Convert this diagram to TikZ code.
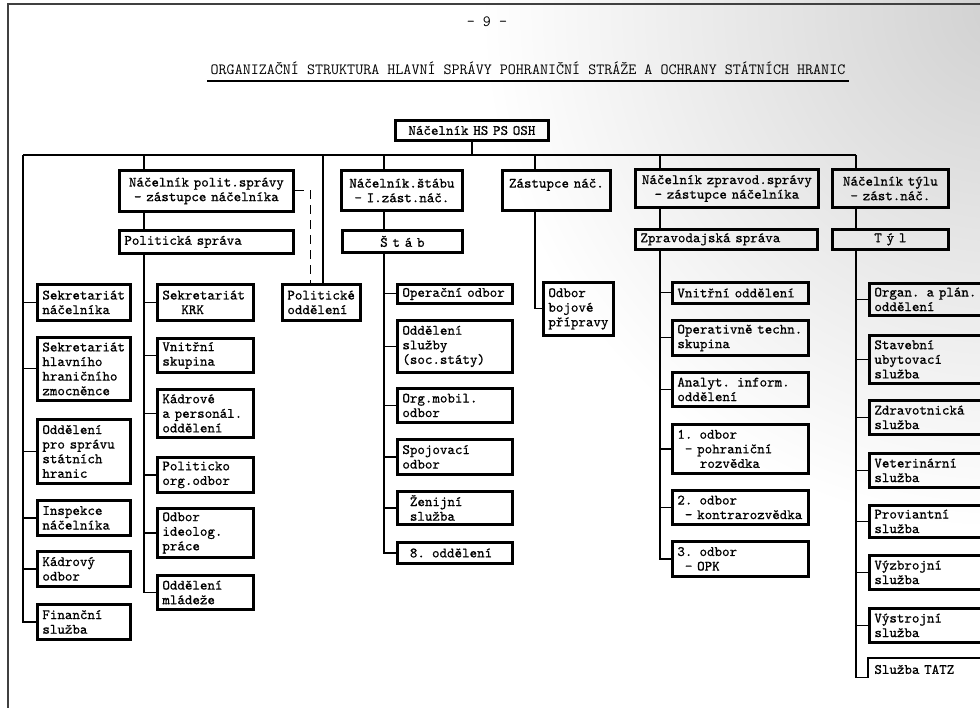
\documentclass[tikz,border=0pt]{standalone}
\usepackage{fontspec}
\newfontfamily\typer{lmmono10-regular.otf}[FakeBold=0.7]
\newcommand{\boxfont}{\typer\fontsize{14.3}{14.6}\selectfont}
\newcommand{\titlefont}{\ttfamily\fontsize{15.6}{17}\selectfont}

\begin{document}
\begin{tikzpicture}[x=1pt,y=-1pt,
    unit/.style={draw,line width=2.8pt,anchor=north west,inner xsep=5pt,inner ysep=2pt,align=left,font=\boxfont},
    link/.style={line width=1.2pt}]

    \clip (0,0) rectangle (980,708);
    \shade[inner color=black!18,outer color=white] (1000,10) circle (520);
    \draw[line width=1.6pt,black!75] (8,708) -- (8,4) -- (980,4);

    \node[font=\titlefont] (page) at (487,22) {- 9 -};
    \node[font=\titlefont] (title) at (528,68) {ORGANIZAČNÍ STRUKTURA HLAVNÍ SPRÁVY POHRANIČNÍ STRÁŽE A OCHRANY STÁTNÍCH HRANIC};
    \draw[line width=1.8pt] ([yshift=-3pt]title.south west) -- ([yshift=-3pt]title.south east);

    \node[unit,align=center,text width=143pt,minimum height=20pt] (chief) at (394,119) {Náčelník HS PS OSH};

    % nacelnici a spravy
    \begin{scope}[every node/.style={unit,align=center}]
        \node[text width=164pt,minimum height=41pt] (npol) at (118,169) {Náčelník polit.správy\\- zástupce náčelníka};
        \node[text width=111pt,minimum height=40pt] (nstab) at (340,169) {Náčelník.štábu\\- I.zást.náč.};
        \node[text width=98pt,minimum height=40pt] (nzast) at (501,169) {Zástupce náč.\\\mbox{}};
        \node[text width=173pt,minimum height=38pt] (nzprav) at (634,168) {Náčelník zpravod.správy\\- zástupce náčelníka};
        \node[text width=106pt,minimum height=38pt] (ntyl) at (831,168) {Náčelník týlu\\- zást.náč.};
        \node[text width=164pt,minimum height=23pt,align=left] (polsp) at (118,229) {Politická správa};
        \node[text width=110pt,minimum height=22pt] (stab) at (341,229) {Š t á b};
        \node[text width=172pt,minimum height=20pt,align=left] (zprsp) at (634,228) {Zpravodajská správa};
        \node[text width=106pt,minimum height=20pt] (tyl) at (831,228) {T ý l};
    \end{scope}

    \node[unit,text width=68pt,minimum height=36pt] (polodd) at (281,283) {Politické\\oddělení};
    \node[unit,text width=60pt,minimum height=53pt] (nbojo) at (542,281) {Odbor\\bojové\\přípravy};

    % levy sloupec
    \begin{scope}[every node/.style={unit,text width=83pt}]
        \node[minimum height=36pt] (lsek) at (36,283) {Sekretariát\\náčelníka};
        \node[minimum height=63pt] (lhlav) at (36,336) {Sekretariát\\hlavního\\hraničního\\zmocněnce};
        \node[minimum height=64pt] (lodd) at (36,418) {Oddělení\\pro správu\\státních\\hranic};
        \node[minimum height=35pt] (linsp) at (36,499) {Inspekce\\náčelníka};
        \node[minimum height=35pt] (lkadr) at (36,550) {Kádrový\\odbor};
        \node[minimum height=35pt] (lfin) at (36,603) {Finanční\\služba};
    \end{scope}

    % politicka sprava
    \begin{scope}[every node/.style={unit,text width=86pt}]
        \node[minimum height=36pt] (psek) at (156,283) {Sekretariát\\\hspace*{19pt}KRK};
        \node[minimum height=34pt] (pvnit) at (156,337) {Vnitřní\\skupina};
        \node[minimum height=48pt] (pkadr) at (156,388) {Kádrové\\a personál.\\oddělení};
        \node[minimum height=35pt] (ppolorg) at (156,456) {Politicko\\org.odbor};
        \node[minimum height=49pt] (pideo) at (156,507) {Odbor\\ideolog.\\práce};
        \node[minimum height=34pt] (pmlad) at (156,574) {Oddělení\\mládeže};
    \end{scope}

    % stab
    \begin{scope}[every node/.style={unit,text width=105pt}]
        \node[minimum height=19pt] (sop) at (396,283) {Operační odbor};
        \node[minimum height=52pt] (ssluz) at (396,319) {Oddělení\\služby\\(soc.státy)};
        \node[minimum height=34pt] (sorg) at (396,387) {Org.mobil.\\odbor};
        \node[minimum height=35pt] (sspoj) at (396,438) {Spojovací\\odbor};
        \node[minimum height=33pt] (szen) at (396,490) {\hspace*{7.5pt}Ženijní\\\hspace*{7.5pt}služba};
        \node[minimum height=21pt] (s8) at (396,541) {\hspace*{7.5pt}8. oddělení};
    \end{scope}

    % zpravodajska sprava
    \begin{scope}[every node/.style={unit,text width=126pt}]
        \node[minimum height=21pt] (zvnit) at (671,281) {Vnitřní oddělení};
        \node[minimum height=35pt] (zoper) at (671,319) {Operativně techn.\\skupina};
        \node[minimum height=34pt] (zanal) at (671,371) {Analyt. inform.\\oddělení};
        \node[minimum height=49pt] (zodb1) at (671,423) {1. odbor\\\hspace*{7.5pt}- pohraniční\\\hspace*{22.5pt}rozvědka};
        \node[minimum height=34pt] (zodb2) at (671,489) {2. odbor\\\hspace*{7.5pt}- kontrarozvědka};
        \node[minimum height=35pt] (zodb3) at (671,540) {3. odbor\\\hspace*{7.5pt}- OPK};
    \end{scope}

    % tyl
    \begin{scope}[every node/.style={unit,text width=111pt}]
        \node[minimum height=32pt] (torg) at (868,282) {Organ. a plán.\\oddělení};
        \node[minimum height=48pt] (tstav) at (868,334) {Stavební\\ubytovací\\služba};
        \node[minimum height=34pt] (tzdr) at (868,399) {Zdravotnická\\služba};
        \node[minimum height=34pt] (tvet) at (868,452) {Veterinární\\služba};
        \node[minimum height=32pt] (tprov) at (868,504) {Proviantní\\služba};
        \node[minimum height=34pt] (tvyzb) at (868,554) {Výzbrojní\\služba};
        \node[minimum height=34pt] (tvystr) at (868,607) {Výstrojní\\služba};
        \node[draw=none,minimum height=20pt] (ttatz) at (868,658) {Služba TATZ};
    \end{scope}
    \draw[line width=2.8pt] ([yshift=3pt]ttatz.south west) |- (ttatz.north east);

    \coordinate (busW) at (23,155);
    \coordinate (busE) at (856,155);
    \coordinate (pbus) at (144,155);
    \coordinate (obus) at (323,155);
    \coordinate (sbus) at (384,155);
    \coordinate (zbus) at (535,155);
    \coordinate (rbus) at (660,155);

    \begin{scope}[every path/.style={link}]
        \draw (chief) -- (chief |- busW);
        \draw (busW) -- (busE);
        \draw (busW) |- (lfin.west);
        \draw (lsek.west) -- (lsek.west -| busW);
        \draw (lhlav.west) -- (lhlav.west -| busW);
        \draw (lodd.west) -- (lodd.west -| busW);
        \draw (linsp.west) -- (linsp.west -| busW);
        \draw (lkadr.west) -- (lkadr.west -| busW);
        \draw (pbus) -- (pbus |- npol.north);
        \draw (npol.south -| pbus) -- (polsp.north -| pbus);
        \draw (polsp.south -| pbus) |- (pmlad.west);
        \draw (psek.west) -- (psek.west -| pbus);
        \draw (pvnit.west) -- (pvnit.west -| pbus);
        \draw (pkadr.west) -- (pkadr.west -| pbus);
        \draw (ppolorg.west) -- (ppolorg.west -| pbus);
        \draw (pideo.west) -- (pideo.west -| pbus);
        \draw (obus) -- (obus |- polodd.north);
        \draw[dash pattern=on 9pt off 6pt] (npol.east) -| ([xshift=-11pt]polodd.north);
        \draw (sbus) -- (sbus |- nstab.north);
        \draw (nstab.south -| sbus) -- (stab.north -| sbus);
        \draw (stab.south -| sbus) |- (s8.west);
        \draw (sop.west) -- (sop.west -| sbus);
        \draw (ssluz.west) -- (ssluz.west -| sbus);
        \draw (sorg.west) -- (sorg.west -| sbus);
        \draw (sspoj.west) -- (sspoj.west -| sbus);
        \draw (szen.west) -- (szen.west -| sbus);
        \draw (zbus) -- (zbus |- nzast.north);
        \draw (nzast.south -| zbus) |- (nbojo.west);
        \draw (rbus) -- (rbus |- nzprav.north);
        \draw (nzprav.south -| rbus) -- (zprsp.north -| rbus);
        \draw (zprsp.south -| rbus) |- (zodb3.west);
        \draw (zvnit.west) -- (zvnit.west -| rbus);
        \draw (zoper.west) -- (zoper.west -| rbus);
        \draw (zanal.west) -- (zanal.west -| rbus);
        \draw (zodb1.west) -- (zodb1.west -| rbus);
        \draw (zodb2.west) -- (zodb2.west -| rbus);
        \draw (busE) -- (busE |- ntyl.north);
        \draw (ntyl.south -| busE) -- (tyl.north -| busE);
        \draw (tyl.south -| busE) |- ([yshift=3pt]ttatz.south west);
        \draw (torg.west) -- (torg.west -| busE);
        \draw (tstav.west) -- (tstav.west -| busE);
        \draw (tzdr.west) -- (tzdr.west -| busE);
        \draw (tvet.west) -- (tvet.west -| busE);
        \draw (tprov.west) -- (tprov.west -| busE);
        \draw (tvyzb.west) -- (tvyzb.west -| busE);
        \draw (tvystr.west) -- (tvystr.west -| busE);
    \end{scope}
\end{tikzpicture}
\end{document}
